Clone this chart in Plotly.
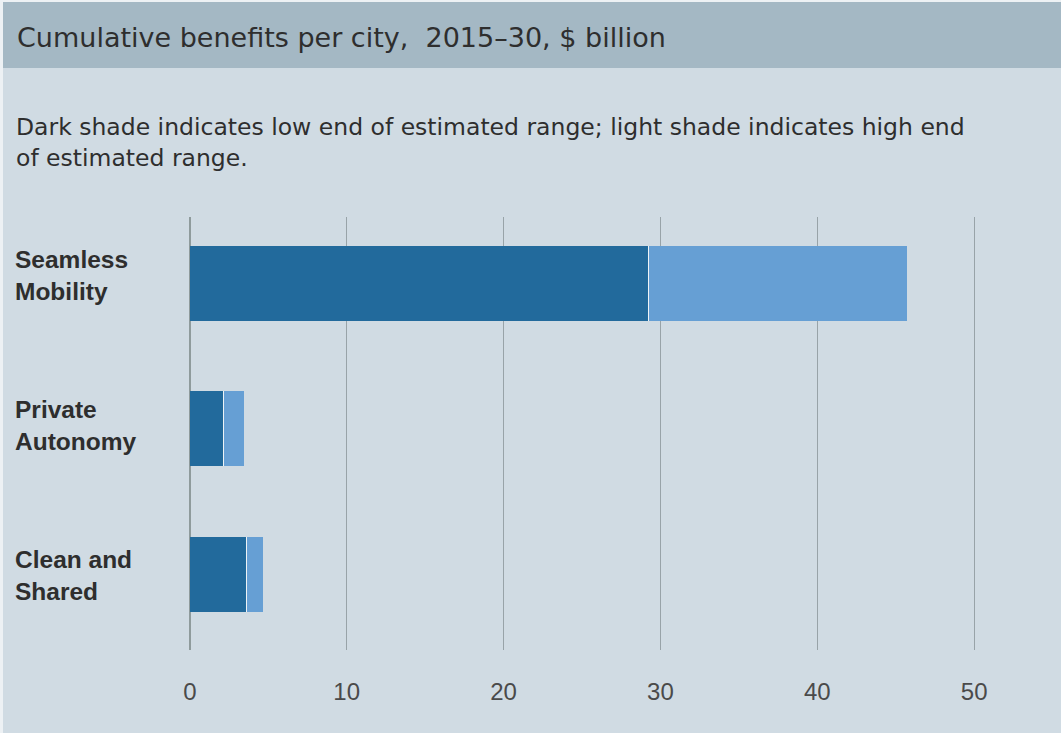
import plotly.graph_objects as go

categories = ["Seamless Mobility", "Private Autonomy", "Clean and Shared"]
label_text = ["Seamless<br>Mobility", "Private<br>Autonomy", "Clean and<br>Shared"]
low_end = [29.3, 2.15, 3.65]
high_end = [45.7, 3.45, 4.65]
x_ticks = [0, 10, 20, 30, 40, 50]

W, H = 1061, 733
L, R, T, B = 182, 79, 217, 83
PW, PH = W - L - R, H - T - B

def px(x):
    return (x - L) / PW

def py(y):
    return (H - B - y) / PH

DARK = "#226a9c"
LIGHT = "#669fd4"
HEADER = "#a4b8c4"
BODY = "#d0dbe3"
TEXT = "#2e2e2e"
GRID = "#98a3a8"
FONT = "Liberation Sans, Arial, sans-serif"
WIDE = "DejaVu Sans, Liberation Sans, sans-serif"

extra = [h - l for h, l in zip(high_end, low_end)]

fig = go.Figure()
fig.add_trace(go.Bar(
    y=categories, x=low_end, orientation="h", marker=dict(color=DARK, line=dict(width=0)),
    width=0.515,
    error_x=dict(type="data", array=[0] * len(low_end), visible=True, color="#eef3f6",
                 thickness=2, width=37.5),
    hoverinfo="x+y",
))
fig.add_trace(go.Bar(
    y=categories, x=extra, base=low_end, orientation="h",
    marker=dict(color=LIGHT, line=dict(width=0)), width=0.515, hoverinfo="x+y",
))

shapes = [
    dict(type="rect", xref="paper", yref="paper", x0=px(3), x1=px(W + 5), y0=py(H + 5), y1=py(2),
         fillcolor=BODY, line=dict(width=0), layer="below"),
    dict(type="rect", xref="paper", yref="paper", x0=px(3), x1=px(W + 5), y0=py(68), y1=py(2),
         fillcolor=HEADER, line=dict(width=0), layer="below"),
]

annotations = [
    dict(xref="paper", yref="paper", x=px(15), y=py(38), xanchor="left", yanchor="middle",
         text="Cumulative benefits per city,  2015–30, $ billion", showarrow=False,
         font=dict(family=WIDE, size=27, color=TEXT)),
    dict(xref="paper", yref="paper", x=px(14), y=py(127), xanchor="left", yanchor="middle",
         text="Dark shade indicates low end of estimated range; light shade indicates high end",
         showarrow=False, font=dict(family=WIDE, size=23.5, color=TEXT)),
    dict(xref="paper", yref="paper", x=px(14), y=py(158), xanchor="left", yanchor="middle",
         text="of estimated range.", showarrow=False, font=dict(family=WIDE, size=23.5, color=TEXT)),
]
label_shift = [8, 3, -1]
for cat, txt, sh in zip(categories, label_text, label_shift):
    annotations.append(dict(xref="paper", yref="y", x=px(13), y=cat, xanchor="left", yanchor="middle",
                            text="<b>" + txt + "</b>", showarrow=False, align="left", yshift=sh,
                            font=dict(family=FONT, size=24.5, color=TEXT)))

fig.update_layout(
    width=W, height=H, margin=dict(l=L, r=R, t=T, b=B),
    paper_bgcolor="#edf1f4", plot_bgcolor="rgba(0,0,0,0)",
    barmode="stack", bargap=0.3, showlegend=False,
    shapes=shapes, annotations=annotations,
    xaxis=dict(range=[-0.5, 50.5], tickvals=x_ticks, showgrid=True, gridcolor=GRID, gridwidth=1.3,
               zeroline=True, zerolinecolor="#8f9b9c", zerolinewidth=1.6,
               showline=False, ticks="", ticklabelstandoff=25,
               tickfont=dict(family=FONT, size=24, color="#4a4a4a"), fixedrange=True),
    yaxis=dict(type="category", categoryarray=categories, range=[2.52, -0.456], showticklabels=False,
               showgrid=False, zeroline=False, showline=False, ticks="", fixedrange=True),
)

fig.write_html("out.html", config={"displayModeBar": False},
               post_script="document.body.style.margin='0';document.body.style.padding='0';")
